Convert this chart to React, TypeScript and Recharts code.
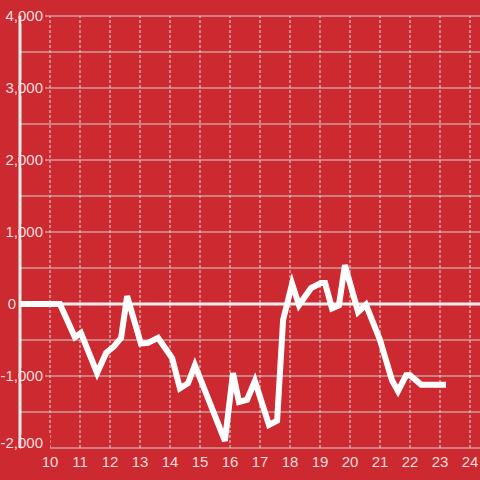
import { CartesianGrid, Line, LineChart, ReferenceLine, XAxis, YAxis } from 'recharts'

const RED = '#cc2a30'
const FONT = '"Liberation Sans", Arial, sans-serif'

// hours of day and running value
const hours = [
  9, 10.33, 10.83, 11.03, 11.57, 11.87, 12.13, 12.37, 12.57, 13.03, 13.27, 13.6, 14.07, 14.33,
  14.6, 14.83, 15.83, 16.1, 16.3, 16.57, 16.83, 17.3, 17.57, 17.77, 18.07, 18.3, 18.7, 19.03,
  19.17, 19.4, 19.63, 19.83, 20.27, 20.53, 21.0, 21.4, 21.6, 21.87, 22.0, 22.37, 23.1,
]
const values = [
  0, 0, -460, -400, -960, -680, -590, -470, 110, -550, -540, -470, -750, -1170,
  -1100, -850, -1900, -960, -1360, -1330, -1070, -1680, -1620, -220, 280, -15, 220, 290,
  290, -60, -20, 540, -110, -10, -500, -1060, -1210, -990, -990, -1120, -1120,
]
const xTicks = [10, 11, 12, 13, 14, 15, 16, 17, 18, 19, 20, 21, 22, 23, 24]
const yTicks = [-2000, -1500, -1000, -500, 0, 500, 1000, 1500, 2000, 2500, 3000, 3500, 4000]

const data = hours.map((h, i) => ({ h, v: values[i] }))

const YTick = (props: any) => {
  const { x, y, payload } = props
  const v = payload.value as number
  if (v % 1000 !== 0) return <g />
  const label = v.toLocaleString('en-US')
  const right = v === 0 ? x - 4 : x + 23
  const ty = v === -2000 ? y - 5 : y
  // mask the grid line behind the label, to the right of the axis line
  const maskEnd = v === -2000 ? right + 7 : right + 2
  return (
    <g>
      {v !== 0 && <rect x={x + 1.5} y={ty - 8} width={maskEnd - x - 1.5} height={16} fill={RED} />}
      <text x={right} y={ty} dy="0.355em" textAnchor="end" fill="#f4dcdc" fontSize={15} fontFamily={FONT}>
        {label}
      </text>
    </g>
  )
}

export default function App() {
  return (
    <div style={{ position: 'fixed', left: 0, top: 0, width: 480, height: 480, background: RED }}>
      <LineChart width={480} height={480} data={data} margin={{ top: 16, right: 0, bottom: 0, left: 0 }}>
        <CartesianGrid stroke="#d0d0d0" strokeWidth={1} vertical={false} />
        {xTicks.map((t) => (
          <ReferenceLine key={t} x={t} stroke="#dadada" strokeDasharray="3 2" />
        ))}
        <XAxis
          dataKey="h"
          type="number"
          domain={[9, 24.3333]}
          ticks={xTicks}
          height={32}
          axisLine={false}
          tickLine={false}
          tickSize={0}
          tickMargin={8}
          tick={{ fill: '#f4dcdc', fontSize: 15, fontFamily: FONT }}
          interval={0}
          allowDataOverflow
        />
        <YAxis
          type="number"
          domain={[-2000, 4000]}
          ticks={yTicks}
          width={20}
          axisLine={{ stroke: '#eeeeee', strokeWidth: 3 }}
          tickLine={false}
          tickSize={0}
          tickMargin={0}
          tick={<YTick />}
          interval={0}
          allowDataOverflow
        />
        <ReferenceLine y={0} stroke="#eeeeee" strokeWidth={3} />
        <Line
          dataKey="v"
          type="linear"
          stroke="#ffffff"
          strokeWidth={6}
          strokeLinecap="square"
          dot={false}
          activeDot={false}
          isAnimationActive={false}
        />
      </LineChart>
    </div>
  )
}
